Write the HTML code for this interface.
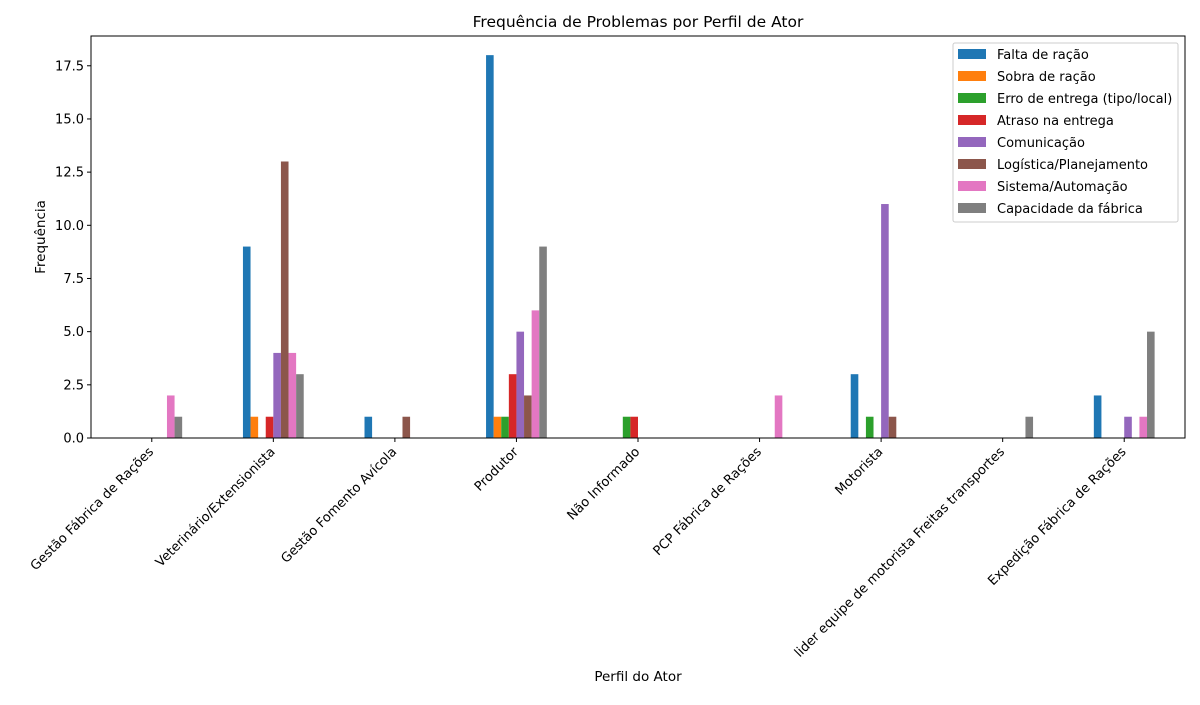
<!DOCTYPE html>
<html><head><meta charset="utf-8"><style>
body{margin:0;background:#fff;}
svg{font-family:"DejaVu Sans","Liberation Sans",sans-serif;}
</style></head><body>
<svg id="chart" width="1200" height="700">
<rect width="1200" height="700" fill="#fff"/>
<text x="638" y="27" text-anchor="middle" font-size="15.5">Frequência de Problemas por Perfil de Ator</text>
<g id="plot"></g>
<text x="638" y="681" text-anchor="middle" font-size="13.5">Perfil do Ator</text>
<text transform="translate(45,237) rotate(-90)" text-anchor="middle" font-size="13.5">Frequência</text>
</svg>
<script>
const categories=["Gestão Fábrica de Rações","Veterinário/Extensionista","Gestão Fomento Avícola","Produtor","Não Informado","PCP Fábrica de Rações","Motorista","lider equipe de motorista Freitas transportes","Expedição Fábrica de Rações"];
const seriesNames=["Falta de ração","Sobra de ração","Erro de entrega (tipo/local)","Atraso na entrega","Comunicação","Logística/Planejamento","Sistema/Automação","Capacidade da fábrica"];
const faltaRacao=[0,9,1,18,0,0,3,0,2];
const sobraRacao=[0,1,0,1,0,0,0,0,0];
const erroEntrega=[0,0,0,1,1,0,1,0,0];
const atrasoEntrega=[0,1,0,3,1,0,0,0,0];
const comunicacao=[0,4,0,5,0,0,11,0,1];
const logistica=[0,13,1,2,0,0,1,0,0];
const sistema=[2,4,0,6,0,2,0,0,1];
const capacidade=[1,3,0,9,0,0,0,1,5];
const yTicks=[0,2.5,5,7.5,10,12.5,15,17.5];
const series=[faltaRacao,sobraRacao,erroEntrega,atrasoEntrega,comunicacao,logistica,sistema,capacidade];
const colors=["#1f77b4","#ff7f0e","#2ca02c","#d62728","#9467bd","#8c564b","#e377c2","#7f7f7f"];
const L=91,R=1185,T=36,B=438;
const xs=(R-L)/9;
function xc(i){return L+xs*(i+0.5);}
const yMax=18.9;
function y(v){return B-(v/yMax)*(B-T);}
const bw=xs*0.5/8;
const ns="http://www.w3.org/2000/svg";
const g=document.getElementById('plot');
function mk(t,a){const e=document.createElementNS(ns,t);for(const k in a)e.setAttribute(k,a[k]);g.appendChild(e);return e;}
series.forEach((s,si)=>{s.forEach((v,ci)=>{if(v<=0)return;
const r=mk('rect',{x:xc(ci)-xs*0.25+si*bw,y:y(v),width:bw,height:B-y(v),fill:colors[si]});

});});
const fr=mk('rect',{x:L,y:T,width:R-L,height:B-T,fill:'none',stroke:'#000','stroke-width':1});


yTicks.forEach(t=>{mk('line',{x1:L-4,x2:L,y1:y(t),y2:y(t),stroke:'#000'});
const tx=mk('text',{x:L-7,y:y(t)+4.5,'text-anchor':'end','font-size':'13'});tx.textContent=t.toFixed(1);

});
categories.forEach((c,i)=>{const x=xc(i);mk('line',{x1:x,x2:x,y1:B,y2:B+4,stroke:'#000'});
const tx=mk('text',{transform:`translate(${x-4},${B+8}) rotate(-45)`,'text-anchor':'end','font-size':'13','textLength':'','dy':'0.7em'});tx.removeAttribute('textLength');tx.textContent=c;

});
const lg=mk('rect',{x:953,y:43,width:225,height:179,fill:'#fff',stroke:'#ccc',rx:2});


seriesNames.forEach((nm,i)=>{const yy=54+i*22;
mk('rect',{x:958,y:yy-5,width:28,height:10,fill:colors[i]});
const tx=mk('text',{x:997,y:yy+5,'font-size':'13'});tx.textContent=nm;

});
</script>
</body></html>
